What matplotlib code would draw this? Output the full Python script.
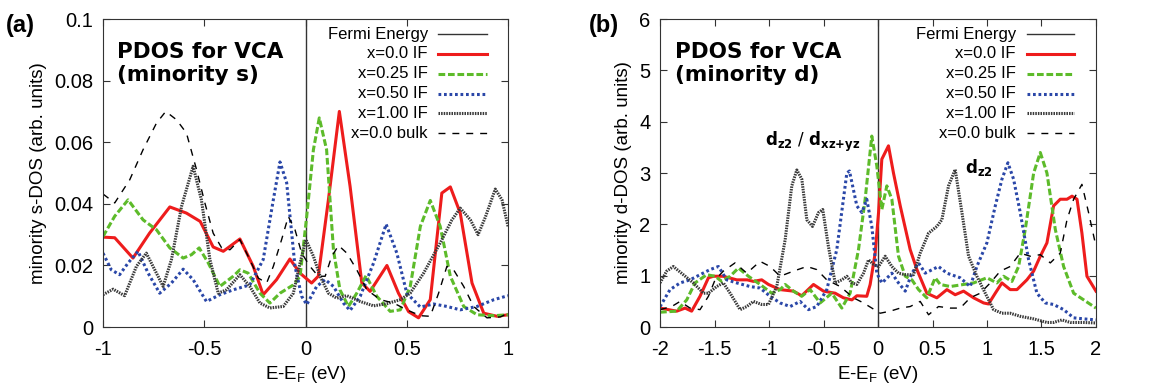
import matplotlib.pyplot as plt

plt.rcParams['font.family'] = ['Liberation Sans', 'DejaVu Sans']

# --- (a) minority s-DOS ---
s_if00_e = [-1, -0.942, -0.852, -0.77, -0.67, -0.588, -0.52, -0.456, -0.406, -0.324, -0.258, -0.209,
            -0.143, -0.077, -0.027, 0.03, 0.063, 0.113, 0.167, 0.22, 0.278, 0.319, 0.402, 0.459,
            0.509, 0.558, 0.616, 0.673, 0.715, 0.764, 0.822, 0.88, 0.946, 1.0]
s_if00 = [0.0292, 0.029, 0.0224, 0.0305, 0.039, 0.037, 0.0343, 0.026, 0.0246, 0.0286, 0.0197, 0.0105,
          0.0154, 0.0221, 0.0175, 0.0143, 0.0165, 0.0413, 0.070, 0.0457, 0.0143, 0.0116, 0.020, 0.011,
          0.005, 0.003, 0.0089, 0.0435, 0.0455, 0.037, 0.0143, 0.0045, 0.0035, 0.004]

s_if25_e = [-1, -0.942, -0.876, -0.802, -0.736, -0.67, -0.604, -0.563, -0.525, -0.48, -0.423, -0.357,
            -0.324, -0.283, -0.225, -0.176, -0.126, -0.06, -0.027, 0.006, 0.039, 0.068, 0.104, 0.138,
            0.17, 0.212, 0.253, 0.299, 0.352, 0.418, 0.468, 0.517, 0.567, 0.616, 0.665, 0.715, 0.781,
            0.847, 0.93, 1.0]
s_if25 = [0.0294, 0.036, 0.0413, 0.0348, 0.0316, 0.0257, 0.0224, 0.0235, 0.0257, 0.0208, 0.0132, 0.0165,
          0.0186, 0.0175, 0.011, 0.0078, 0.011, 0.0137, 0.0165, 0.036, 0.0576, 0.0679, 0.0576, 0.025,
          0.0121, 0.0067, 0.011, 0.0167, 0.010, 0.0051, 0.0056, 0.0132, 0.0327, 0.0411, 0.0327, 0.0165,
          0.0067, 0.004, 0.0037, 0.004]

s_if50_e = [-1, -0.959, -0.918, -0.876, -0.827, -0.777, -0.72, -0.662, -0.604, -0.555, -0.489, -0.423,
            -0.357, -0.275, -0.209, -0.159, -0.126, -0.093, -0.052, -0.019, 0.006, 0.055, 0.097, 0.138,
            0.187, 0.22, 0.27, 0.336, 0.398, 0.451, 0.5, 0.567, 0.632, 0.698, 0.764, 0.847, 0.93, 1.0]
s_if50 = [0.024, 0.0186, 0.017, 0.0208, 0.0246, 0.0175, 0.011, 0.0143, 0.0188, 0.0154, 0.0083, 0.0105,
          0.0121, 0.0137, 0.0219, 0.0413, 0.0536, 0.0468, 0.0197, 0.010, 0.0073, 0.0132, 0.0154, 0.0132,
          0.0078, 0.0054, 0.010, 0.0208, 0.0334, 0.024, 0.011, 0.0065, 0.0075, 0.0067, 0.0056, 0.0067,
          0.0089, 0.0102]

s_if100_e = [-1, -0.95, -0.893, -0.835, -0.786, -0.736, -0.703, -0.662, -0.612, -0.555, -0.514, -0.472,
             -0.431, -0.39, -0.324, -0.275, -0.225, -0.176, -0.11, -0.06, -0.027, 0.002, 0.039, 0.072,
             0.113, 0.154, 0.204, 0.27, 0.336, 0.402, 0.468, 0.517, 0.583, 0.665, 0.723, 0.764, 0.814,
             0.852, 0.888, 0.937, 0.97, 1.0]
s_if100 = [0.0105, 0.0123, 0.0102, 0.0197, 0.024, 0.0175, 0.0132, 0.0219, 0.0392, 0.0522, 0.0413, 0.0219,
           0.011, 0.0121, 0.017, 0.0132, 0.0078, 0.0062, 0.0067, 0.011, 0.0208, 0.0284, 0.023, 0.0165,
           0.011, 0.0094, 0.0102, 0.0083, 0.0069, 0.0076, 0.0089, 0.011, 0.0175, 0.0273, 0.0348, 0.0386,
           0.0348, 0.030, 0.0357, 0.0448, 0.0413, 0.0327]

s_bulk_e = [-1, -0.942, -0.868, -0.802, -0.736, -0.69, -0.637, -0.588, -0.538, -0.497, -0.456, -0.414,
            -0.373, -0.324, -0.275, -0.233, -0.192, -0.159, -0.118, -0.085, -0.052, -0.019, 0.022, 0.063,
            0.097, 0.129, 0.163, 0.204, 0.253, 0.303, 0.369, 0.435, 0.5, 0.567, 0.616, 0.657, 0.698,
            0.731, 0.781, 0.83, 0.896, 0.962, 1.0]
s_bulk = [0.0432, 0.0403, 0.0478, 0.0576, 0.0662, 0.070, 0.0673, 0.063, 0.0511, 0.0403, 0.0305, 0.0257,
          0.0251, 0.0284, 0.0219, 0.0159, 0.0143, 0.0197, 0.0284, 0.0359, 0.0316, 0.024, 0.0197, 0.0165,
          0.0165, 0.0229, 0.0265, 0.024, 0.0186, 0.0121, 0.0089, 0.0078, 0.0056, 0.0037, 0.0035, 0.011,
          0.0197, 0.0186, 0.0132, 0.0067, 0.003, 0.0033, 0.0045]

# --- (b) minority d-DOS ---
d_if00_e = [-2, -1.847, -1.77, -1.71, -1.633, -1.556, -1.51, -1.42, -1.296, -1.2, -1.143, -1.067, -1.005,
            -0.898, -0.776, -0.7, -0.592, -0.5, -0.393, -0.317, -0.24, -0.194, -0.103, -0.072, -0.026,
            0.005, 0.035, 0.096, 0.142, 0.204, 0.295, 0.357, 0.448, 0.54, 0.632, 0.708, 0.785, 0.877,
            0.969, 1.014, 1.076, 1.137, 1.213, 1.275, 1.366, 1.428, 1.489, 1.55, 1.611, 1.672, 1.734,
            1.78, 1.826, 1.871, 1.917, 2.0]
d_if00 = [0.37, 0.31, 0.37, 0.31, 0.6, 0.96, 0.99, 0.99, 0.92, 0.92, 0.89, 0.92, 0.83,
          0.73, 0.70, 0.61, 0.83, 0.70, 0.66, 0.57, 0.53, 0.61, 0.6, 0.83, 1.44,
          2.23, 3.27, 3.53, 3.0, 2.36, 1.51, 1.12, 0.66, 0.57, 0.73, 0.63, 0.70, 0.57,
          0.47, 0.45, 0.66, 0.86, 0.73, 0.73, 0.92, 1.09, 1.38, 1.64, 2.36, 2.49, 2.49,
          2.55, 2.49, 1.83, 0.99, 0.70]

d_if25_e = [-2, -1.847, -1.755, -1.679, -1.572, -1.495, -1.434, -1.357, -1.281, -1.189, -1.082, -0.975,
            -0.898, -0.852, -0.776, -0.7, -0.623, -0.531, -0.424, -0.332, -0.256, -0.179, -0.118, -0.057,
            -0.011, 0.035, 0.081, 0.127, 0.188, 0.25, 0.311, 0.372, 0.448, 0.525, 0.571, 0.662, 0.785,
            0.877, 0.999, 1.091, 1.152, 1.229, 1.29, 1.351, 1.428, 1.489, 1.55, 1.627, 1.703, 1.795,
            1.887, 2.0]
d_if25 = [0.29, 0.31, 0.53, 0.86, 1.02, 0.99, 0.89, 0.99, 1.15, 0.99, 0.83, 0.66,
          0.73, 0.83, 0.70, 0.6, 0.73, 0.47, 0.66, 0.37, 0.66, 1.51, 2.49, 3.72,
          3.14, 2.29, 2.75, 2.49, 1.38, 0.99, 0.92, 0.73, 0.57, 0.96, 0.83, 0.79, 0.83,
          0.86, 0.96, 0.86, 0.99, 0.89, 1.18, 1.90, 3.0, 3.40, 3.0, 1.90, 1.18, 0.66,
          0.53, 0.37]

d_if50_e = [-2, -1.908, -1.816, -1.725, -1.633, -1.541, -1.464, -1.388, -1.296, -1.174, -1.082, -0.99,
            -0.898, -0.806, -0.715, -0.638, -0.562, -0.47, -0.378, -0.286, -0.262, -0.194, -0.148,
            -0.103, -0.057, -0.011, 0.035, 0.066, 0.127, 0.188, 0.25, 0.311, 0.372, 0.433, 0.555, 0.632,
            0.754, 0.846, 0.907, 0.999, 1.076, 1.137, 1.192, 1.244, 1.305, 1.382, 1.458, 1.535, 1.611,
            1.703, 1.795, 1.887, 2.0]
d_if50 = [0.40, 0.73, 0.86, 0.92, 1.02, 1.12, 1.18, 0.92, 0.86, 0.79, 0.76, 0.60,
          0.47, 0.40, 0.50, 0.34, 0.40, 0.73, 1.51, 3.0, 3.04, 2.36, 2.23,
          2.49, 1.96, 1.05, 0.86, 0.92, 1.05, 0.86, 0.70, 1.05, 1.25, 1.05, 1.18, 1.05,
          0.96, 0.79, 1.18, 1.64, 2.36, 2.88, 3.2, 2.88, 2.23, 1.31, 0.66, 0.47, 0.44,
          0.34, 0.18, 0.16, 0.14]

d_if100_e = [-2, -1.939, -1.878, -1.786, -1.694, -1.602, -1.556, -1.48, -1.419, -1.357, -1.265, -1.204,
             -1.143, -1.067, -1.005, -0.929, -0.852, -0.791, -0.745, -0.699, -0.653, -0.601, -0.546,
             -0.507, -0.455, -0.393, -0.332, -0.286, -0.24, -0.194, -0.133, -0.087, -0.041, 0.005, 0.066,
             0.127, 0.188, 0.25, 0.326, 0.387, 0.464, 0.54, 0.586, 0.647, 0.708, 0.77, 0.831, 0.907,
             0.984, 1.06, 1.137, 1.213, 1.305, 1.428, 1.55, 1.611, 1.688, 1.764, 1.887, 2.0]
d_if100 = [0.86, 1.09, 1.18, 1.02, 0.86, 0.66, 0.66, 0.79, 0.86, 0.66, 0.34, 0.40,
           0.50, 0.44, 0.44, 0.79, 1.70, 2.75, 3.06, 2.88, 2.09, 1.96, 2.23,
           2.29, 1.57, 0.86, 0.92, 0.99, 0.86, 0.83, 1.05, 1.31, 1.22, 1.18, 1.38,
           1.18, 1.05, 1.02, 1.02, 1.44, 1.83, 1.96, 2.09, 2.75, 3.07, 2.23, 1.38, 0.99,
           0.66, 0.34, 0.27, 0.27, 0.21, 0.16, 0.09, 0.09, 0.14, 0.09, 0.09, 0.08]

d_bulk_e = [-2, -1.893, -1.816, -1.725, -1.633, -1.556, -1.495, -1.419, -1.312, -1.204, -1.082, -0.99,
            -0.898, -0.776, -0.653, -0.562, -0.47, -0.347, -0.225, -0.133, -0.041, 0.02, 0.112, 0.204,
            0.295, 0.387, 0.464, 0.555, 0.662, 0.754, 0.846, 0.938, 1.03, 1.122, 1.213, 1.305, 1.397,
            1.489, 1.581, 1.672, 1.734, 1.795, 1.871, 1.932, 2.0]
d_bulk = [0.34, 0.40, 0.50, 0.37, 0.34, 0.6, 0.92, 1.09, 1.25, 1.05, 1.28, 1.18,
          0.99, 1.09, 1.18, 1.12, 0.92, 0.79, 0.57, 0.47, 0.35, 0.27, 0.31, 0.37,
          0.40, 0.5, 0.24, 0.40, 0.37, 0.37, 0.57, 0.66, 0.86, 1.09, 1.18, 1.44, 1.38,
          1.41, 1.25, 1.44, 2.09, 2.49, 2.78, 2.23, 1.57]

labels = ['Fermi Energy', 'x=0.0 IF', 'x=0.25 IF', 'x=0.50 IF', 'x=1.00 IF', 'x=0.0 bulk']
styles = [
    dict(color='#333333', lw=1.0, ls='-'),
    dict(color='#ee1c1c', lw=2.2, ls='-'),
    dict(color='#5dbb2a', lw=2.2, ls=(0, (2.2, 0.9))),
    dict(color='#2a47a8', lw=2.2, ls=(0, (0.9, 0.9))),
    dict(color='#3a3a3a', lw=2.2, ls=(0, (0.5, 0.35))),
    dict(color='black', lw=1.0, ls=(0, (5, 5))),
]

fig = plt.figure(figsize=(11.61, 3.88), dpi=100)
ax1 = fig.add_axes([0.0887, 0.157, 0.3489, 0.794])
ax2 = fig.add_axes([0.5685, 0.157, 0.3755, 0.794])


def draw_panel(ax, curves, xlim, ylim, xticks, xtl, yticks, ytl, ylabel, title, txt_x, line_x):
    ax.axvline(0, **styles[0])
    for (e, dos), st in zip(curves, styles[1:]):
        ax.plot(e, dos, **st)
    ax.set_xlim(*xlim)
    ax.set_ylim(*ylim)
    ax.set_xticks(xticks)
    ax.set_xticklabels(xtl)
    ax.set_yticks(yticks)
    ax.set_yticklabels(ytl)
    ax.tick_params(direction='in', length=5, top=True, right=True, labelsize=14.5, pad=7, color='#333333')
    ax.tick_params(axis='x', pad=9)
    for sp in ax.spines.values():
        sp.set_color('#333333')
    ax.set_xlabel('E-E$_\\mathregular{F}$ (eV)', fontsize=13.5, labelpad=4)
    ax.set_ylabel(ylabel, fontsize=13.5, labelpad=5)
    ax.text(0.035, 0.925, title, transform=ax.transAxes, ha='left', va='top',
            family='DejaVu Sans', fontweight='bold', fontsize=15.5, linespacing=1.15)
    # gnuplot-style key: text right aligned, sample to its right
    for i, (lab, st) in enumerate(zip(labels, styles)):
        y = 0.951 - i * 0.0643
        ax.text(txt_x, y, lab, transform=ax.transAxes, ha='right', va='center', fontsize=12)
        ax.plot(line_x, [y, y], transform=ax.transAxes, clip_on=False, **st)


draw_panel(ax1, [(s_if00_e, s_if00), (s_if25_e, s_if25), (s_if50_e, s_if50),
                 (s_if100_e, s_if100), (s_bulk_e, s_bulk)],
           (-1, 1), (0, 0.1), [-1, -0.5, 0, 0.5, 1], ['-1', '-0.5', '0', '0.5', '1'],
           [0, 0.02, 0.04, 0.06, 0.08, 0.1], ['0', '0.02', '0.04', '0.06', '0.08', '0.1'],
           'minority s-DOS (arb. units)', 'PDOS for VCA\n(minority s)', 0.802, [0.827, 0.948])

draw_panel(ax2, [(d_if00_e, d_if00), (d_if25_e, d_if25), (d_if50_e, d_if50),
                 (d_if100_e, d_if100), (d_bulk_e, d_bulk)],
           (-2, 2), (0, 6), [-2, -1.5, -1, -0.5, 0, 0.5, 1, 1.5, 2],
           ['-2', '-1.5', '-1', '-0.5', '0', '0.5', '1', '1.5', '2'],
           [0, 1, 2, 3, 4, 5, 6], ['0', '1', '2', '3', '4', '5', '6'],
           'minority d-DOS (arb. units)', 'PDOS for VCA\n(minority d)', 0.816, [0.841, 0.95])

ax2.text(-1.04, 3.6, '$\\mathbf{d_{z2}}$ / $\\mathbf{d_{xz{+}yz}}$', family='DejaVu Sans',
         fontsize=12, ha='left', va='center')
ax2.text(0.8, 3.1, '$\\mathbf{d_{z2}}$', family='DejaVu Sans', fontsize=12,
         ha='left', va='center')

fig.text(0.005, 0.935, '(a)', fontsize=17, fontweight='bold', ha='left', va='center')
fig.text(0.507, 0.935, '(b)', fontsize=17, fontweight='bold', ha='left', va='center')

fig.savefig('out.png', dpi=100)
